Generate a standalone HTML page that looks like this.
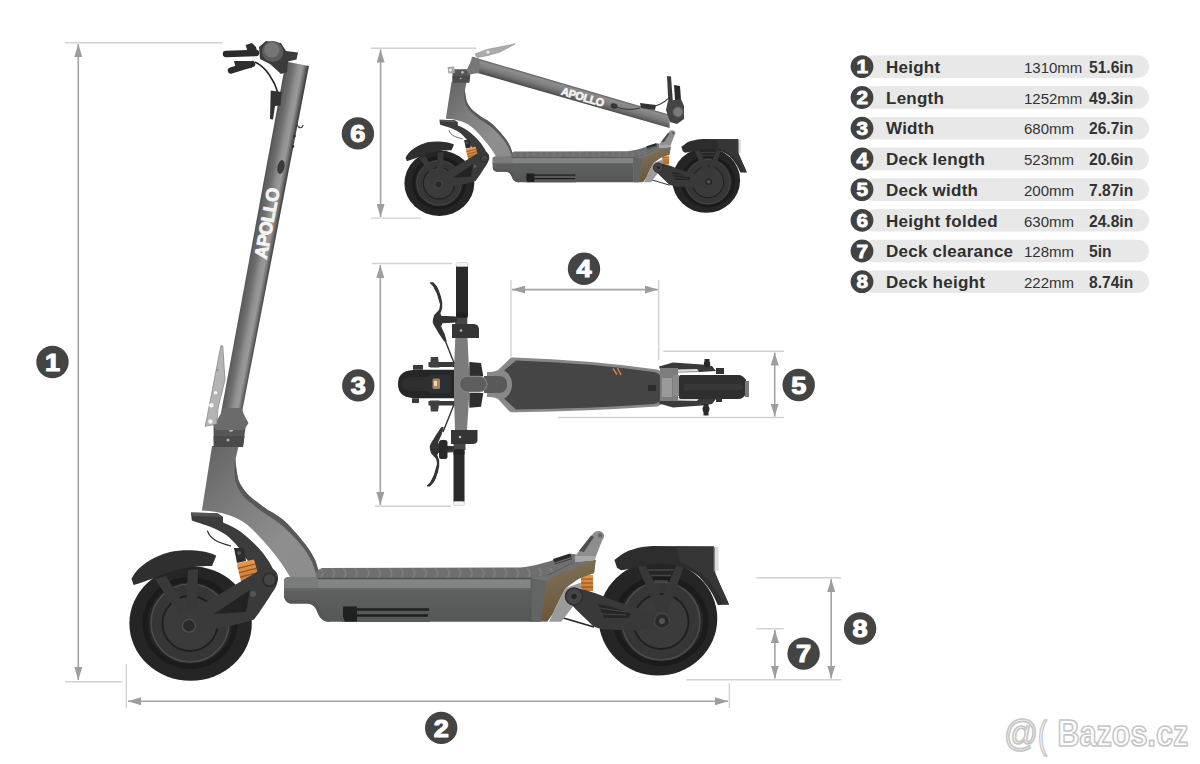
<!DOCTYPE html>
<html><head><meta charset="utf-8">
<style>
html,body{margin:0;padding:0;background:#fff;width:1200px;height:764px;overflow:hidden}
svg{display:block;font-family:"Liberation Sans",sans-serif}
</style></head>
<body>
<svg width="1200" height="764" viewBox="0 0 1200 764">
<defs>
<marker id="ah" viewBox="0 0 13 8" refX="13" refY="4" markerWidth="13" markerHeight="8" markerUnits="userSpaceOnUse" orient="auto-start-reverse"><path d="M0,0 L13,4 L0,8 z" fill="#9d9d9d"/></marker>
</defs>
<rect width="1200" height="764" fill="#fff"/>

<!-- extension lines -->
<g stroke="#d2d2d2" stroke-width="1.4" fill="none">
<path d="M65,42.8H222.5 M65,681.7H122.5"/>
<path d="M126.3,664V708 M729.4,683V708"/>
<path d="M756.4,577.8H841.3 M756.4,628.7H783.7 M686.3,679.8H841.3"/>
<path d="M371,48.2H476 M371,218.1H421"/>
<path d="M372,263.5H452 M375,506.2H451"/>
<path d="M511,280V357.6 M658.7,280V360"/>
<path d="M663.3,351.3H784 M558,417.5H784"/>
</g>
<!-- dimension lines -->
<g stroke="#a3a3a3" stroke-width="1.6" fill="none">
<path d="M78.3,44V680" marker-start="url(#ah)" marker-end="url(#ah)"/>
<path d="M128,701.3H728" marker-start="url(#ah)" marker-end="url(#ah)"/>
<path d="M774.9,630V678.5" marker-start="url(#ah)" marker-end="url(#ah)"/>
<path d="M831.2,579V678.5" marker-start="url(#ah)" marker-end="url(#ah)"/>
<path d="M380.6,49.5V217" marker-start="url(#ah)" marker-end="url(#ah)"/>
<path d="M380.3,265V505" marker-start="url(#ah)" marker-end="url(#ah)"/>
<path d="M512,289.6H658" marker-start="url(#ah)" marker-end="url(#ah)"/>
<path d="M774.7,352.5V416.5" marker-start="url(#ah)" marker-end="url(#ah)"/>
</g>

<!-- badges -->
<g font-weight="bold" font-size="24" text-anchor="middle" fill="#fff" stroke="#fff" stroke-width="1.1" stroke-linejoin="round">
<circle cx="52.5" cy="362" r="16.2" fill="#444" stroke="none"/><text x="0" y="8.6" transform="translate(52.5,362) scale(1.13,1)">1</text>
<circle cx="441.2" cy="727.9" r="16.2" fill="#444" stroke="none"/><text x="0" y="8.6" transform="translate(441.2,727.9) scale(1.13,1)">2</text>
<circle cx="358.3" cy="385.4" r="16.2" fill="#444" stroke="none"/><text x="0" y="8.6" transform="translate(358.3,385.4) scale(1.13,1)">3</text>
<circle cx="584" cy="268.8" r="16.2" fill="#444" stroke="none"/><text x="0" y="8.6" transform="translate(584,268.8) scale(1.13,1)">4</text>
<circle cx="798.7" cy="385" r="16.2" fill="#444" stroke="none"/><text x="0" y="8.6" transform="translate(798.7,385) scale(1.13,1)">5</text>
<circle cx="357.9" cy="133.4" r="16.2" fill="#444" stroke="none"/><text x="0" y="8.6" transform="translate(357.9,133.4) scale(1.13,1)">6</text>
<circle cx="803.6" cy="653.6" r="16.2" fill="#444" stroke="none"/><text x="0" y="8.6" transform="translate(803.6,653.6) scale(1.13,1)">7</text>
<circle cx="860.1" cy="628.5" r="16.2" fill="#444" stroke="none"/><text x="0" y="8.6" transform="translate(860.1,628.5) scale(1.13,1)">8</text>
</g>

<!-- SCOOTERS -->
<defs>
<linearGradient id="stemG" x1="0" y1="0" x2="1" y2="0">
<stop offset="0" stop-color="#5a5a5a"/><stop offset="0.3" stop-color="#8a8a8a"/><stop offset="0.65" stop-color="#777"/><stop offset="1" stop-color="#4a4a4a"/>
</linearGradient>
<linearGradient id="bodyG" x1="0" y1="0" x2="0" y2="1">
<stop offset="0" stop-color="#636464"/><stop offset="1" stop-color="#555656"/>
</linearGradient>
<linearGradient id="neckG" x1="0" y1="0" x2="1" y2="1">
<stop offset="0" stop-color="#626262"/><stop offset="0.35" stop-color="#7c7c7c"/><stop offset="0.7" stop-color="#8e8e8e"/><stop offset="1" stop-color="#8c8c8c"/>
</linearGradient>
<linearGradient id="bronzeG" x1="0" y1="0" x2="0.3" y2="1">
<stop offset="0" stop-color="#85755a"/><stop offset="0.5" stop-color="#75654a"/><stop offset="1" stop-color="#6a5636"/>
</linearGradient>
<linearGradient id="springG" x1="0" y1="0" x2="0" y2="1">
<stop offset="0" stop-color="#e39a50"/><stop offset="1" stop-color="#c8752e"/>
</linearGradient>

<pattern id="gripP" patternUnits="userSpaceOnUse" x="318" y="560" width="11.5" height="20">
<rect width="11.5" height="20" fill="#6f6f6f"/>
<path d="M2,8 Q7.5,13 2,19" stroke="#828282" stroke-width="1.3" fill="none"/>
</pattern>
<linearGradient id="stemAx" x1="0" y1="0" x2="1" y2="0">
<stop offset="0" stop-color="#4a4a4a"/><stop offset="0.1" stop-color="#5e5e5e"/><stop offset="0.32" stop-color="#6e6e6e"/><stop offset="0.55" stop-color="#909090"/><stop offset="0.72" stop-color="#9a9a9a"/><stop offset="0.86" stop-color="#6a6a6a"/><stop offset="0.94" stop-color="#474747"/><stop offset="1" stop-color="#404040"/>
</linearGradient>
<g id="wheelF">
<ellipse cx="190.6" cy="623.5" rx="61.2" ry="57.3" fill="#252525"/>
<ellipse cx="190" cy="623" rx="45" ry="43.5" fill="none" stroke="#1b1b1b" stroke-width="5"/>
<circle cx="190" cy="623" r="39" fill="#363636" stroke="#4c4c4c" stroke-width="1.6"/>
<circle cx="190" cy="623.5" r="27.5" fill="#3b3b3b" stroke="#1f1f1f" stroke-width="1.8"/>
</g>
<g id="wheelR">
<ellipse cx="658" cy="618.5" rx="59.3" ry="57" fill="#252525"/>
<ellipse cx="661" cy="621" rx="45" ry="42.5" fill="none" stroke="#1b1b1b" stroke-width="5"/>
<circle cx="661" cy="621" r="39" fill="#363636" stroke="#4c4c4c" stroke-width="1.6"/>
<circle cx="661" cy="621.5" r="27.5" fill="#3b3b3b" stroke="#1f1f1f" stroke-width="1.8"/>
</g>

<g id="base">
<!-- rear wheel -->
<use href="#wheelR"/>
<!-- rear fender struts -->
<path d="M637.5,566 L646,566 L662,598 L676,566 L684,566 L668,612 L657,612 Z" fill="#383838"/>
<path d="M648,570 L674,570 M651,575.5 L671,575.5 M654,581 L668,581" stroke="#454545" stroke-width="1.4"/>
<!-- rear fender -->
<path d="M614.4,559.9 L619.6,556 C624,552.5 628,550.5 632.7,549.4 C639,547.5 645,546.5 652.4,546.1 L713.9,546.5 L715.2,573 C720,585 725,595 729,604.4 L717.8,605 C715,599 713,594 710,590 C707,585 703,581 699.5,576.9 C694,572 689,570 683.8,567.7 C678,565.5 672,564.3 665.4,563.8 C660,563.5 655,563.8 649.7,564.5 C645,565 641,566 636.6,567.7 C631,568.5 626,569.5 621,570.3 L617,567.7 Z" fill="#2d2d2d"/>
<path d="M676,546.6 L713.9,546.5 L715.2,573 C720,585 725,595 729,604.4 L724,604.6 C719,595 713,585 706,578 C699,571 690,566 680,562 Z" fill="#363636"/>
<rect x="714" y="547" width="4.5" height="24" fill="#dcdcdc"/>
<rect x="713.2" y="547" width="1.4" height="25" fill="#555"/>
<!-- rear cable -->
<path d="M560,617 L594,627" stroke="#222" stroke-width="1.6" fill="none"/>
<!-- rear spring -->
<rect x="581" y="575" width="12" height="16" fill="url(#springG)"/>
<path d="M581,579H593M581,583H593M581,587H593" stroke="#8a4d1c" stroke-width="1"/>
<!-- front wheel -->
<use href="#wheelF"/>
<!-- front fender struts -->
<path d="M155,579 L166,576 L186,608 L188,570 L198,569 L197,621 L184,622 Z" fill="#393939"/>
<!-- front fender -->
<path d="M131.5,578.7 C138,566 152,557 170,552 C185,549 205,550 216.3,555.7 L212,566 C200,566 185,567 170,572 C158,576 145,582 133.6,585 Z" fill="#2f2f2f"/>
<!-- front cable -->
<path d="M207.4,530.7 C210,540 220,543 231,546" stroke="#2a2a2a" stroke-width="1.2" fill="none"/>
<!-- neck frame -->
<path d="M212,446 L201.9,510.5 C222,511 240,517 252,529 C264,541 280,559 290,577 L322,578 C321,574 320.5,573 319,572.8 C317,566 316,561 314,558 C311,552 308,548 305.5,544.5 C301,539 298,535 294,531 C290,526 286,522 281.4,518.4 C277,515 272,512 267.8,510 C264,507 262,506 259.6,504 C254,500 249,496 245,491.3 C241,486 238,481 237.6,476.6 C236,470 235,463 235.8,458.3 L238.6,446 Z" fill="url(#neckG)"/>
<path d="M237.6,476.6 C238,481 241,486 245,491.3 C249,496 254,500 259.6,504 C262,506 264,507 267.8,510 C272,512 277,515 281.4,518.4 C286,522 290,526 294,531 C298,535 301,539 305.5,544.5 C308,548 311,552 314,558 C316,561 317,566 319,572.8 C320.5,573 321,574 322,578 L317,578 C316,573 314,567 312,562 C309,556 306,551 302,546 C298,541 294,537 290,533 C285,528 281,524 276,521 C271,517 266,514 261,511 C256,507 251,503 246,499 C241,494 237,487 235.5,481 C234.5,475 234,466 235,458.3 Z" fill="#585858"/>
<!-- fork -->
<path d="M190.9,512.4 L217.5,513.3 L223,517 L223,522.5 C232,526 239,530 245,535.3 C252,541 258,547 263.3,553.6 C268,560 272,566 274.3,572 L276,580 L266,590 L254,570 C251,565 248,561 245,557.3 C242,553 240,549 237.6,546.3 C234,542 230,538 226.6,535.3 C220,531 214,528 208.3,526 C202,524 196,522 191.8,520.6 Z" fill="#3c3c3c"/>
<path d="M190.9,512.4 L217.5,513.3 L223,517 L193,516 Z" fill="#555"/>
<!-- front shock -->
<path d="M234,548 L244,548 L246,561 L237,563 Z" fill="#2d2d2d"/><circle cx="239" cy="553" r="2" fill="#555"/>
<rect x="239" y="561" width="18" height="22" rx="2" fill="url(#springG)" transform="rotate(-14 248 572)"/>
<path d="M239,566H257M239,570.5H257M239,575H257M239,579.5H257" stroke="#94521c" stroke-width="1.2" transform="rotate(-14 248 572)"/>
<!-- front swingarm -->
<path d="M180,618 C182,610 190,609 196,608 L262,569 C270,565 279,570 278,580 C277,585 275,589 272,593 C266,602 260,612 254,619.5 C240,624 220,629 197.4,631 C188,632 180,627 180,618 Z" fill="#3a3a3a"/>
<path d="M214,614 L250,590 L246,612 Z" fill="#232323"/>
<circle cx="269.6" cy="579.8" r="6.5" fill="#444" stroke="#2a2a2a" stroke-width="1.5"/>
<circle cx="189" cy="625.8" r="6.5" fill="#2a2a2a" stroke="#4d4d4d" stroke-width="1.5"/>
<circle cx="253" cy="594" r="3" fill="#555"/>

<!-- deck body -->
<path d="M284,581 C284,578.5 286,577 289,577 L531,577.5 L531,621.7 L328,621.7 C322,621 319,617 317,611 C315,606 312,603.5 306,603.5 L291,603.5 C286,603 284,599 284,594 Z" fill="url(#bodyG)"/>
<path d="M318,577 L531,577.5 L531,588 L318,588 Z" fill="#838484"/>
<path d="M284,581 C284,578.5 286,577 289,577 L318,577 L318,588 L284,588 Z" fill="#7a7b7b"/>
<path d="M284,588 L531,588 L531,590.5 L284,590.5 Z" fill="#666767"/>
<path d="M284,594 C284,599 286,603 291,603.5 L306,603.5 C312,603.5 315,606 317,611 C319,617 322,621 328,621.7 L331,621.7 C326,620 323,616 321,610 C318,603 314,600 307,600 L290,600 C287,599 285,597 284,594 Z" fill="#555"/>
<!-- grip tape -->
<path d="M322,568 L520,567.6 C535,566 548,562 556,559 L571,553.8 L576.3,554.5 L575,562.5 C565,567 555,573 546.7,575.8 L530.8,578.5 L318,578.5 C315,577 315.5,572 318,570 Z" fill="url(#gripP)"/>
<path d="M318,578.5 L530.8,578.5 L546.7,575.8 L575,562.5" stroke="#4e4e4e" stroke-width="1.3" fill="none"/>
<path d="M553,559 L570,553.5 L571.5,557 L554.5,562.5 Z" fill="#2a2a2a"/><path d="M555,564 L572,558.5" stroke="#3a3a3a" stroke-width="1"/>
<!-- cable trough -->
<rect x="342" y="606.5" width="88" height="15.5" fill="#575858"/>
<path d="M346,609.5 L429,609.5 M352,615.5 L428,615.5" stroke="#1f1f1f" stroke-width="2.4"/>
<path d="M343,606.5 L357,606.5 L357,621.5 L345,621.5 L343,617 Z" fill="#202020"/>
<!-- rear section -->
<path d="M531,577.5 L549,575 L575,562 L596,560 L594,573 L579,578.6 L565.3,588.2 L553,613 L547.5,621.7 L531,621.7 Z" fill="#707171"/>
<path d="M531,578 L546.8,581.3 L540.6,621.7 L531,621.7 Z" fill="#636464"/>
<path d="M531,577.5 L531,621.7" stroke="#555" stroke-width="0.8"/>
<path d="M565.3,588.2 L580.4,582.7 L582,590 L572.2,607.4 L561.2,621.7 L549,621.7 L553,613 Z" fill="#9b9b9b"/>
<path d="M546.8,581.3 L551.6,577.2 L594.9,560 L594.2,573 C590,574 585,576 579,578.6 C573,582 569,585 565.3,588.2 C560,597 556,605 553,613 C551,616 549,619 547.5,620.5 L540.6,620.5 Z" fill="url(#bronzeG)"/>
<!-- rear kick-up -->
<path d="M576.3,554.5 L592.8,533.9 C595,530.5 600,530 603,533 C605,535.5 604,538 602.4,540 L596,556 L594.9,560 L575,562 Z" fill="#8e8e8e"/>
<path d="M579,551 L591,535.5 L594,537 L584,552 Z" fill="#4f4f4f"/>
<circle cx="600" cy="535.5" r="2.2" fill="#666"/>
<path d="M575,556 L595,556 L594.9,560 L575,562 Z" fill="#a8a8a8"/>

<!-- rear swingarm -->
<path d="M566,596 C566,590 570,588 574,588 C590,590 600,595 615,601 C630,606 645,610 656,613 C664,614 670,617 670,622 C670,627 666,629 660,630 L620,630 C608,630 598,629 593,626 C585,618 578,612 571,604 C567,601 566,599 566,596 Z" fill="#393939"/>
<path d="M598,604 C610,606 622,610 631,614 L628,618 L604,618 Z" fill="#262626"/>
<path d="M600,608 L626,612 M602,614 L626,615" stroke="#454545" stroke-width="1"/>
<circle cx="574" cy="596.5" r="8.5" fill="#444" stroke="#2e2e2e" stroke-width="1.5"/>
<circle cx="574" cy="596.5" r="3.5" fill="#262626" stroke="#555" stroke-width="0.8"/>
<circle cx="662" cy="621" r="7.5" fill="#2a2a2a" stroke="#444" stroke-width="1.5"/>
<circle cx="662" cy="621" r="3" fill="#555"/>

<!-- collar -->
<path d="M213.5,424 L246,424 L243,447 L213.8,447 Z" fill="#565656"/>
<path d="M213.6,436 L244.5,436 L243,447 L213.8,447 Z" fill="#4a4a4a"/>
<circle cx="231" cy="429.4" r="2.3" fill="#bdbdbd"/><circle cx="228" cy="440" r="1.6" fill="#aaa"/>
</g>
</defs>

<g id="scooters">
<!-- main scooter base -->
<use href="#base"/>
<!-- main stem -->
<g transform="translate(297.4,63.7) rotate(10.7)">
<path d="M-11.8,0 L11.8,0 L10.2,358 L-10.2,358 Z" fill="url(#stemAx)"/>
</g>
<path d="M223,408 L242,408 C243,414 246,418 248.5,423 L244,430 L216,430 L213,424 C218,420 221,414 223,408 Z" fill="#6b6b6b"/>
<!-- latch plate -->
<path d="M220.9,345.6 L222.8,346 L225,380 L218,408 L216.7,424 L205.2,426.3 L207.3,415.8 Z" fill="#b4b4b4" stroke="#8a8a8a" stroke-width="0.8"/>
<circle cx="215.6" cy="392.7" r="1.8" fill="#f4f4f4"/><circle cx="211.4" cy="405.3" r="2.2" fill="#f4f4f4"/><circle cx="210.4" cy="421.5" r="2.2" fill="#f4f4f4"/>
<circle cx="217.5" cy="370" r="1.1" fill="#c96a50"/>
<!-- hooks -->
<path d="M297,124.5 C299,129 302,128.5 303.3,125" stroke="#444" stroke-width="1.2" fill="none"/><circle cx="294.5" cy="136" r="1.3" fill="#333"/><circle cx="293" cy="146.4" r="1.3" fill="#333"/>
<!-- throttle dot -->
<ellipse cx="281" cy="167" rx="3.5" ry="7" fill="#3a3a3a" transform="rotate(12 281 167)"/>
<!-- APOLLO -->
<text x="0" y="6.5" font-size="18" font-weight="bold" fill="#f4f4f4" stroke="#f4f4f4" stroke-width="0.9" letter-spacing="-0.6" transform="translate(260,258.5) rotate(-79.3)">APOLLO</text>
<!-- handlebar side -->
<path d="M259,47 L266,41 L281,43 L286,51 L298,52.5 L296.5,59.5 L288,61.5 L287,72 L281,74 L270,64 L260,59 Z" fill="#3b3b3b"/>
<circle cx="272.7" cy="51.5" r="10.6" fill="#5c5c5c"/>
<circle cx="271.8" cy="49.8" r="7.6" fill="#767676"/>
<path d="M226,54 L256,53" stroke="#2b2b2b" stroke-width="6.5" stroke-linecap="round"/>
<path d="M245.6,45 L252,43 L256,47 L258,55 L249,56 Z" fill="#2e2e2e"/>
<path d="M231,70.5 L252,64" stroke="#2b2b2b" stroke-width="6.5" stroke-linecap="round"/><path d="M234,61 L250,61 L252,68 L236,69 Z" fill="#2e2e2e"/>
<path d="M255,62 C266,67 274,80 278,93" stroke="#222" stroke-width="1.6" fill="none"/>
<path d="M270.7,90.5 L281.7,92 L280.5,105.4 L275,106 L273,119.5 L270,119 Z" fill="#333"/>

<!-- folded scooter -->
<use href="#base" transform="translate(404.4,216) scale(0.571) translate(-129.4,-681)"/>
<!-- folded stem -->
<linearGradient id="fstemG" x1="0" y1="0" x2="0" y2="1" gradientUnits="objectBoundingBox">
<stop offset="0" stop-color="#8c8c8c"/><stop offset="0.5" stop-color="#7c7c7c"/><stop offset="1" stop-color="#505050"/>
</linearGradient>
<linearGradient id="fsG" x1="0" y1="0" x2="0" y2="1">
<stop offset="0" stop-color="#5e5e5e"/><stop offset="0.15" stop-color="#8e8e8e"/><stop offset="0.55" stop-color="#7a7a7a"/><stop offset="0.85" stop-color="#5a5a5a"/><stop offset="1" stop-color="#444"/>
</linearGradient>
<g transform="translate(474,57.4) rotate(16.3)">
<path d="M-2,0 L204,0 L207.5,12.8 L-2,14 Z" fill="url(#fsG)"/>
</g>
<path d="M473,57 L480,59 L479,73 L469,74.5 L466.5,70.5 Z" fill="#777"/>
<path d="M447.5,67 L454,66.5 L455,73 L448.5,73.5 Z" fill="#a8a8a8"/><circle cx="450.5" cy="70" r="1.4" fill="#f0f0f0"/>
<circle cx="477" cy="55" r="1.6" fill="#eee"/>
<path d="M475,54 L487,49.5 L515.4,43.8 L500,52 L488,55.5 L477,57.5 Z" fill="#acacac" stroke="#888" stroke-width="0.6"/>
<circle cx="488" cy="52" r="1.6" fill="#eee"/>
<text x="0" y="0" font-size="11" font-weight="bold" fill="#f4f4f4" stroke="#f4f4f4" stroke-width="0.6" letter-spacing="-0.3" transform="translate(560.5,94.5) rotate(16.3)">APOLLO</text>
<ellipse cx="614" cy="106" rx="3.5" ry="2.5" fill="#333" transform="rotate(16 614 106)"/>
<path d="M616,107 C625,110 632,110 640,108" stroke="#333" stroke-width="1" fill="none"/>
<path d="M640,103 L656,105 L655,110 L641,108 Z" fill="#333"/>
<path d="M655,106 C662,104 668,100 672,94" stroke="#333" stroke-width="1.2" fill="none"/>
<path d="M667,76 L671,76.5 L673,104 L668.5,105 Z" fill="#3a3a3a"/>
<path d="M674,85 L680,86 L681,100 L675,100 Z" fill="#2a2a2a"/>
<path d="M668,101 L681,99 L684,106 L684,119 L677,124 L670,122 L666,110 Z" fill="#444"/>
<circle cx="678" cy="112" r="5.3" fill="#7a7a7a" stroke="#4e4e4e" stroke-width="1.2"/>

<!-- TOP VIEW -->
<g id="topview">
<!-- front fender -->
<path d="M398,384 C398,373 405,369.8 418,369.8 L456,369.8 L456,398.3 L418,398.3 C405,398.3 398,395 398,384 Z" fill="#262626"/>
<path d="M402,384 C402,378 406,377 418,377 L440,377 L440,391 L418,391 C406,391 402,390 402,384 Z" fill="#2f2f2f"/>
<rect x="429" y="374.5" width="22" height="19" rx="3" fill="#2b2f36"/>
<rect x="432.5" y="378.5" width="7.5" height="10.5" rx="1.5" fill="#a88458"/><rect x="434" y="381" width="3" height="5" fill="#e8d8c0"/>
<!-- fork arms -->
<path d="M428.5,362 L456,362 L456,367 L428.5,367 Z" fill="#3b3b3b"/>
<path d="M428.5,401 L456,401 L456,405.5 L428.5,405.5 Z" fill="#3b3b3b"/>
<path d="M430.8,357 L438,357 L439.5,367.5 L430,367.5 Z" fill="#404040"/>
<path d="M430.8,411.5 L438,411.5 L439.5,400.5 L430,400.5 Z" fill="#404040"/>
<path d="M413,365 L423,365 L423,369.8 L413,369.8 Z M412,398.3 L419,398.3 L419,403 L412,403 Z" fill="#3a3a3a"/>
<path d="M469.3,362 L481,363 L483.3,376.2 L469.3,376.2 Z" fill="#2f2f2f"/>
<path d="M469.3,407.7 L481,406.7 L483.3,393 L469.3,393 Z" fill="#2f2f2f"/>
<!-- cables -->
<path d="M443,335 L456,368 M443,432 L455,402" stroke="#333" stroke-width="1.4" fill="none"/>
<!-- stem / bar -->
<rect x="455.3" y="317" width="12" height="21" fill="#474747"/>
<rect x="453.5" y="430" width="12" height="20" fill="#474747"/>
<path d="M455.3,338 L467.5,338 L469,370 L469,398 L467,430 L455,430 L454,398 L454,370 Z" fill="#7b7b7b"/>
<!-- clamps -->
<path d="M452,324 L473,324 C477,324 479,326 479,330 L479,338 L452,338 Z" fill="#353535"/>
<path d="M451,430 L477.5,430 L477.5,440 C477.5,443 475,444 472,444 L451,444 Z" fill="#353535"/>
<circle cx="461" cy="330.5" r="1.3" fill="#bbb"/><circle cx="460" cy="437" r="1.3" fill="#bbb"/>
<!-- grips -->
<rect x="456" y="265" width="12" height="53" rx="2.5" fill="#2a2a2a"/>
<rect x="456" y="262.5" width="12" height="4" rx="1.5" fill="#f4f4f4" stroke="#c8c8c8" stroke-width="0.6"/>
<rect x="453.5" y="449" width="11" height="54" rx="2.5" fill="#2a2a2a"/>
<rect x="453.5" y="501.5" width="11" height="4" rx="1.5" fill="#f4f4f4" stroke="#c8c8c8" stroke-width="0.6"/>
<!-- brake levers -->
<path d="M430.5,282.8 L432.8,282.8 C436,285.5 437.5,288 438.3,290.6 C440,295 441.2,299 441.6,302.5 L441.6,308 C441,310 440.3,312 439.7,313.5 L441,316.3 L455.8,317 L456.7,321.8 L442,322.7 L440.6,326.4 C441.5,329 442.5,331.5 443.9,333.7 L446,341 L444.8,341 C443,339 442,337 441,335.6 C439.5,333.5 438,331 437,329.1 C435,326 433.5,324 433.3,321.8 C433.5,319 434,317 434.7,315.4 C436.5,313.5 438.5,311.5 439.7,309.9 C440.2,307.5 440.6,306 440.6,304.4 C439.5,300.5 438.5,297 437.4,293.3 C436,290.5 434.5,288 433.8,286 Z" fill="#333" stroke="#333" stroke-width="1.2" stroke-linejoin="round"/>
<path d="M430.5,282.8 L432.8,282.8 C436,285.5 437.5,288 438.3,290.6 C440,295 441.2,299 441.6,302.5 L441.6,308 C441,310 440.3,312 439.7,313.5 L441,316.3 L455.8,317 L456.7,321.8 L442,322.7 L440.6,326.4 C441.5,329 442.5,331.5 443.9,333.7 L446,341 L444.8,341 C443,339 442,337 441,335.6 C439.5,333.5 438,331 437,329.1 C435,326 433.5,324 433.3,321.8 C433.5,319 434,317 434.7,315.4 C436.5,313.5 438.5,311.5 439.7,309.9 C440.2,307.5 440.6,306 440.6,304.4 C439.5,300.5 438.5,297 437.4,293.3 C436,290.5 434.5,288 433.8,286 Z" fill="#333" stroke="#333" stroke-width="1.2" stroke-linejoin="round" transform="translate(-3,768.6) scale(1,-1)"/>
<rect x="439" y="440" width="8.5" height="19" rx="2.5" fill="#2a2a2a"/>
<rect x="456" y="312.5" width="11.5" height="4.5" fill="#222"/>
<rect x="453.5" y="450" width="11" height="4.5" fill="#222"/>
<!-- display pod + neck -->
<path d="M498,370 L509,359.5 C510,358 511,357.5 514,357.5 Q590,360 657,369.5 C662,371 665,374 665,378 L665,398 C665,402 662,405 657,406.5 Q590,411 514,412.3 C511,412.3 510,412 509,411 L498,399 C494,397 490,397 487,397 L487,372 C490,372 494,372 498,370 Z" fill="#888"/>
<path d="M516,360.5 Q590,363 654,372 C658.5,373 661,375 661,379 L661,397 C661,401 658.5,403 654,404 Q590,408.5 516,409.5 L504,398.5 C509,396 512,391 512,384.5 C512,378 509,373 504,370.5 Z" fill="#454545"/>
<path d="M484,376 L500,376 C505,377 507,380 507,384.5 C507,389 505,392 500,393 L484,393 Z" fill="#595959"/>
<rect x="459.4" y="376.3" width="27.5" height="15.7" rx="7.8" fill="#5e5e5e" stroke="#8a8a8a" stroke-width="1"/>
<path d="M613,368.5 L617,374.5 M617.5,368 L621,375" stroke="#d8843c" stroke-width="1.4"/>
<rect x="648" y="385" width="8" height="6" fill="#2c2c2c"/>
<!-- rear -->
<path d="M659,366.5 L673,362.5 L702,364.5 L712,366 L716,371 L700,372 L673,372.5 L661,373 Z" fill="#3a3a3a"/>
<path d="M659,403.5 L673,407.5 L702,405.5 L712,404 L716,399 L700,398 L673,397.5 L661,397 Z" fill="#3a3a3a"/>
<path d="M674,369.5 L697,369 L699,371.5 L674,372 Z M674,400.5 L697,401 L699,398.5 L674,398 Z" fill="#dcdcdc"/>
<rect x="660" y="368" width="18" height="33" fill="#7d7d7d"/>
<rect x="662" y="378" width="10" height="19" fill="#9a9a9a"/>
<rect x="673" y="375" width="6" height="21" fill="#8a8a8a"/>
<path d="M679,377 C679,375.5 680,375 682,375 L738,375 C742,375 744,377 746,380 L746,394 C744,397 742,399 738,399 L682,399 C680,399 679,398.5 679,397 Z" fill="#2f2f2f"/>
<path d="M684,384 L738,384 C741,384 743,385 743,387 C743,389 741,390 738,390 L684,390 Z" fill="#383838"/>
<rect x="745" y="381" width="4" height="16" fill="#7a7a7a"/>
<circle cx="707" cy="364" r="3.2" fill="#2a2a2a"/><circle cx="706" cy="409" r="3.5" fill="#2a2a2a"/>
<path d="M704.5,359 L709.5,359 L709.5,366 L704.5,366 Z M703.5,404 L708.5,404 L708.5,415.5 L703.5,415.5 Z" fill="#2a2a2a"/>
<path d="M716,368 L724,368 L724,374 L716,374 Z M716,397 L722,397 L722,402 L716,402 Z" fill="#333"/>
</g>
</g>


<!-- table -->
<g id="table">
<g fill="#e8e8e8">
<rect x="862" y="55.3" width="287" height="22.6" rx="11.3"/>
<rect x="862" y="86.2" width="287" height="22.6" rx="11.3"/>
<rect x="862" y="116.9" width="287" height="22.6" rx="11.3"/>
<rect x="862" y="147.6" width="287" height="22.6" rx="11.3"/>
<rect x="862" y="178.3" width="287" height="22.6" rx="11.3"/>
<rect x="862" y="209" width="287" height="22.6" rx="11.3"/>
<rect x="862" y="239.7" width="287" height="22.6" rx="11.3"/>
<rect x="862" y="270.4" width="287" height="22.6" rx="11.3"/>
</g>
<g fill="#424242">
<circle cx="862" cy="66.6" r="11.4"/><circle cx="862" cy="97.5" r="11.4"/><circle cx="862" cy="128.2" r="11.4"/><circle cx="862" cy="158.9" r="11.4"/>
<circle cx="862" cy="189.6" r="11.4"/><circle cx="862" cy="220.3" r="11.4"/><circle cx="862" cy="251" r="11.4"/><circle cx="862" cy="281.7" r="11.4"/>
</g>
<g fill="#fff" stroke="#fff" stroke-width="0.8" font-weight="bold" font-size="18" text-anchor="middle">
<text x="0" y="6.6" transform="translate(862.3,66.6) scale(1.15,1)">1</text><text x="0" y="6.6" transform="translate(862.3,97.5) scale(1.15,1)">2</text><text x="0" y="6.6" transform="translate(862.3,128.2) scale(1.15,1)">3</text><text x="0" y="6.6" transform="translate(862.3,158.9) scale(1.15,1)">4</text><text x="0" y="6.6" transform="translate(862.3,189.6) scale(1.15,1)">5</text><text x="0" y="6.6" transform="translate(862.3,220.3) scale(1.15,1)">6</text><text x="0" y="6.6" transform="translate(862.3,251) scale(1.15,1)">7</text><text x="0" y="6.6" transform="translate(862.3,281.7) scale(1.15,1)">8</text>
</g>
<g fill="#2f2f2f" font-weight="bold" font-size="17" letter-spacing="0.25">
<text x="886" y="72.8">Height</text><text x="886" y="103.7">Length</text><text x="886" y="134.4">Width</text><text x="886" y="165.1">Deck length</text>
<text x="886" y="195.8">Deck width</text><text x="886" y="226.5">Height folded</text><text x="886" y="257.2">Deck clearance</text><text x="886" y="287.9">Deck height</text>
</g>
<g fill="#333" font-size="15">
<text x="1024" y="72.8">1310mm</text><text x="1024" y="103.7">1252mm</text><text x="1024" y="134.4">680mm</text><text x="1024" y="165.1">523mm</text>
<text x="1024" y="195.8">200mm</text><text x="1024" y="226.5">630mm</text><text x="1024" y="257.2">128mm</text><text x="1024" y="287.9">222mm</text>
</g>
<g fill="#333" font-weight="bold" font-size="15.6">
<text x="1089" y="72.8">51.6in</text><text x="1089" y="103.7">49.3in</text><text x="1089" y="134.4">26.7in</text><text x="1089" y="165.1">20.6in</text>
<text x="1089" y="195.8">7.87in</text><text x="1089" y="226.5">24.8in</text><text x="1089" y="257.2">5in</text><text x="1089" y="287.9">8.74in</text>
</g>
</g>

<!-- watermark -->
<g fill="#fff" stroke="#c6c6c6" stroke-width="1.7" font-size="36" stroke-linejoin="round">
<text x="1004" y="746.4" textLength="34" lengthAdjust="spacingAndGlyphs">@</text>
<text x="1038" y="748" textLength="9" lengthAdjust="spacingAndGlyphs" font-size="38">(</text>
<text x="1057.4" y="746.4" textLength="131" lengthAdjust="spacingAndGlyphs" font-weight="bold">Bazos.cz</text>
</g>
</svg>
</body></html>
